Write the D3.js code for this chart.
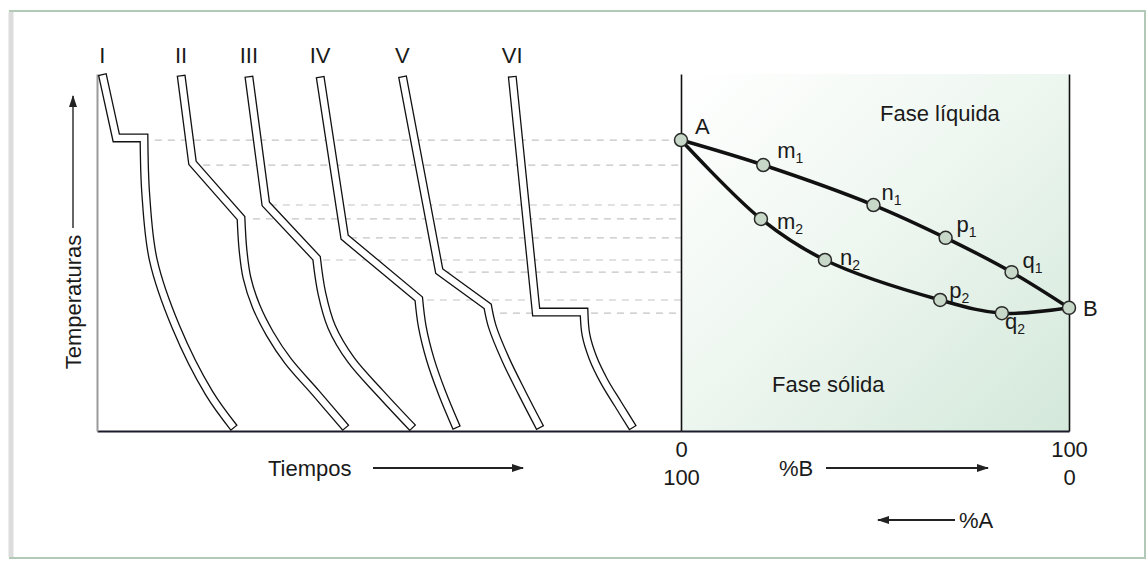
<!DOCTYPE html>
<html lang="es">
<head>
<meta charset="UTF-8">
<title>Curvas de enfriamiento y diagrama de fases</title>
<script src="https://d3js.org/d3.v7.min.js"></script>
<style>
  body { margin: 0; background: #fff; }
  svg { display: block; font-family: "Liberation Sans", Arial, sans-serif; }
  .lbl { font-size: 22px; fill: #1a1a1a; }
</style>
</head>
<body>
<svg width="1147" height="567"></svg>
<script>
// cooling curves, [time, temperature]: straight part up to the last kink, then a smooth tail
const curveNames = ["I", "II", "III", "IV", "V", "VI"];
const curveKinks = [
  [[0.9, 100], [3.3, 82.1], [8.05, 82.1]],
  [[14.4, 99.7], [16.35, 75.1], [24.66, 59.66]],
  [[26.0, 99.4], [28.9, 63.6], [37.6, 48.4]],
  [[38.2, 99.3], [42.4, 54.3], [55.1, 37.0]],
  [[52.3, 99.4], [58.6, 44.8], [66.9, 34.9]],
  [[71.1, 99.4], [75.2, 33.3], [83.4, 33.3]]
];
const curveTails = [
  [[8.05, 82.1], [8.34, 66.6], [9.64, 47.9], [13.5, 29.2], [19.2, 10.6], [23.5, 0.8]],
  [[24.66, 59.66], [25.0, 50.7], [25.68, 42.9], [27.23, 35.0], [29.62, 27.2], [32.71, 19.6], [37.5, 10.6], [42.64, 0.8]],
  [[37.6, 48.4], [38.5, 38.6], [40.2, 29.1], [43.5, 19.9], [48.5, 10.6], [54.1, 0.8]],
  [[55.1, 37.0], [55.7, 29.2], [57.1, 19.9], [59.1, 10.6], [61.6, 0.8]],
  [[66.9, 34.9], [67.7, 29.2], [70.0, 19.9], [72.8, 10.6], [75.9, 0.8]],
  [[83.4, 33.3], [83.73, 26.9], [84.93, 20.45], [86.82, 14.0], [89.21, 7.56], [91.78, 0.8]]
];

// phase diagram: liquidus and solidus, [%B, temperature]
const liqNames = ["A", "m1", "n1", "p1", "q1", "B"];
const liqComp = [0, 21.2, 49.6, 68.2, 85.2, 100];
const liqTemp = [81.5, 74.5, 63.3, 54.1, 44.5, 34.5];
const solNames = ["A", "m2", "n2", "p2", "q2", "B"];
const solComp = [0, 20.6, 37.1, 66.8, 82.7, 100];
const solTemp = [81.5, 59.4, 47.9, 36.7, 33.0, 34.5];

// dashed guides: temperature and the time where each one starts
const guideTemp = [81.5, 74.5, 63.3, 59.4, 54.1, 47.9, 44.5, 36.7, 33.0];
const guideFrom = [9.9, 18.2, 29.6, 26.7, 43.3, 38.7, 59.2, 56.5, 69.0];

const compTicks = [0, 100];

const svg = d3.select("svg");

const x = d3.scaleLinear().domain([0, 100]).range([97, 681]);     // time
const y = d3.scaleLinear().domain([0, 100]).range([431, 74]);     // temperature
const c = d3.scaleLinear().domain([0, 100]).range([681, 1069]);   // %B
const a = d3.scaleLinear().domain([100, 0]).range([681, 1069]);   // %A

// frame
svg.append("rect")
  .attr("x", 10).attr("y", 11).attr("width", 1135).attr("height", 547)
  .attr("fill", "none").attr("stroke", "#b3c9b8").attr("stroke-width", 2);
svg.append("line")
  .attr("x1", 11).attr("x2", 11).attr("y1", 12).attr("y2", 557)
  .attr("stroke", "#dcdcdc").attr("stroke-width", 5);

// green background of the phase diagram
const defs = svg.append("defs");
const grad = defs.append("linearGradient").attr("id", "green")
  .attr("x1", 0).attr("y1", 0).attr("x2", 1).attr("y2", 1);
grad.append("stop").attr("offset", "0%").attr("stop-color", "#ffffff");
grad.append("stop").attr("offset", "45%").attr("stop-color", "#eff7f1");
grad.append("stop").attr("offset", "100%").attr("stop-color", "#d3e8da");

svg.append("rect")
  .attr("x", c(0)).attr("y", y(100))
  .attr("width", c(100) - c(0)).attr("height", y(0) - y(100))
  .attr("fill", "url(#green)");

defs.append("marker").attr("id", "arrow")
  .attr("viewBox", "0 0 12 8").attr("refX", 11).attr("refY", 4)
  .attr("markerWidth", 12).attr("markerHeight", 8)
  .attr("markerUnits", "userSpaceOnUse").attr("orient", "auto")
  .append("path").attr("d", "M0,0L12,4L0,8Z").attr("fill", "#222");

// dashed guides
svg.append("g").selectAll("line")
  .data(guideTemp)
  .join("line")
  .attr("x1", (d, i) => x(guideFrom[i]))
  .attr("x2", c(0))
  .attr("y1", d => y(d)).attr("y2", d => y(d))
  .attr("stroke", "#c4c4c4").attr("stroke-width", 1.2)
  .attr("stroke-dasharray", "7,6");

// axes
svg.append("g").attr("transform", `translate(0,${y(0)})`)
  .call(d3.axisBottom(x).tickValues([]).tickSizeOuter(0))
  .call(g => g.select(".domain").attr("stroke", "#1b1b2b").attr("stroke-width", 2));
svg.append("g").attr("transform", `translate(0,${y(0)})`)
  .call(d3.axisBottom(c).tickValues([]).tickSizeOuter(0))
  .call(g => g.select(".domain").attr("stroke", "#1b1b2b").attr("stroke-width", 2));
svg.append("g").attr("transform", `translate(${x(0)},0)`)
  .call(d3.axisLeft(y).tickValues([]).tickSizeOuter(0))
  .call(g => g.select(".domain").attr("stroke", "#9a9a9a").attr("stroke-width", 2));
[c(0), c(100)].forEach(px => {
  svg.append("g").attr("transform", `translate(${px},0)`)
    .call(d3.axisLeft(y).tickValues([]).tickSizeOuter(0))
    .call(g => g.select(".domain").attr("stroke", "#111").attr("stroke-width", 1.6));
});

// %B and %A tick labels
svg.append("g").attr("transform", `translate(0,${y(0) + 10})`)
  .call(d3.axisBottom(c).tickValues(compTicks).tickSize(0).tickPadding(0))
  .call(g => g.select(".domain").remove())
  .selectAll("text").attr("class", "lbl").attr("font-family", null).attr("font-size", null);
svg.append("g").attr("transform", `translate(0,${y(0) + 38})`)
  .call(d3.axisBottom(a).tickValues(compTicks).tickSize(0).tickPadding(0))
  .call(g => g.select(".domain").remove())
  .selectAll("text").attr("class", "lbl").attr("font-family", null).attr("font-size", null);

// cooling curves as hollow tubes
const straight = d3.line().x(d => x(d[0])).y(d => y(d[1]));
const smooth = d3.line().x(d => x(d[0])).y(d => y(d[1])).curve(d3.curveCatmullRom);
const tubePaths = curveKinks.map((k, i) => {
  const tail = smooth(curveTails[i]);
  return straight(k) + tail.slice(tail.indexOf("C"));
});
const tubes = svg.append("g");
tubes.selectAll("path.outer")
  .data(tubePaths).join("path").attr("class", "outer")
  .attr("d", d => d).attr("fill", "none")
  .attr("stroke", "#111").attr("stroke-width", 9).attr("stroke-linejoin", "miter");
tubes.selectAll("path.inner")
  .data(tubePaths).join("path").attr("class", "inner")
  .attr("d", d => d).attr("fill", "none")
  .attr("stroke", "#fff").attr("stroke-width", 6.4).attr("stroke-linejoin", "miter")
  .attr("stroke-dasharray", function () {
    const len = this.getTotalLength();
    return `0 1.3 ${len - 2.6} ${len}`;
  });

svg.append("g").selectAll("text")
  .data(curveNames).join("text")
  .attr("class", "lbl")
  .attr("x", (d, i) => x(curveKinks[i][0][0]))
  .attr("y", 63)
  .attr("text-anchor", "middle")
  .text(d => d);

// liquidus / solidus
const comp = d3.line().x(d => c(d[0])).y(d => y(d[1])).curve(d3.curveCatmullRom);
const liq = liqComp.map((v, i) => [v, liqTemp[i], liqNames[i]]);
const sol = solComp.map((v, i) => [v, solTemp[i], solNames[i]]);
[liq, sol].forEach(pts => {
  svg.append("path").attr("d", comp(pts)).attr("fill", "none")
    .attr("stroke", "#111").attr("stroke-width", 3.5);
});

const pts = liq.concat(sol.slice(1, -1));
svg.append("g").selectAll("circle")
  .data(pts).join("circle")
  .attr("cx", d => c(d[0])).attr("cy", d => y(d[1])).attr("r", 6.5)
  .attr("fill", "#c8d8c8").attr("stroke", "#2a2a2a").attr("stroke-width", 1.5);

const labelOffset = {
  A: [14, -6], m1: [14, -7], n1: [8, -5], p1: [11, -6], q1: [11, -4], B: [14, 8],
  m2: [16, 10], n2: [15, 5], p2: [9, -2], q2: [3, 16]
};
const lab = svg.append("g").selectAll("text")
  .data(pts).join("text")
  .attr("class", "lbl")
  .attr("x", d => c(d[0]) + labelOffset[d[2]][0])
  .attr("y", d => y(d[1]) + labelOffset[d[2]][1]);
lab.append("tspan").text(d => d[2][0]);
lab.filter(d => d[2].length > 1).append("tspan")
  .attr("font-size", 14).attr("dy", 5).text(d => d[2].slice(1));

svg.append("text").attr("class", "lbl").attr("x", 880).attr("y", 121).text("Fase líquida");
svg.append("text").attr("class", "lbl").attr("x", 772).attr("y", 392).text("Fase sólida");

// axis titles with arrows
svg.append("text").attr("class", "lbl")
  .attr("transform", "translate(81,302) rotate(-90)")
  .attr("text-anchor", "middle").text("Temperaturas");
svg.append("line").attr("x1", 73).attr("x2", 73).attr("y1", 228).attr("y2", 96)
  .attr("stroke", "#555").attr("stroke-width", 1.8).attr("marker-end", "url(#arrow)");

svg.append("text").attr("class", "lbl").attr("x", 268).attr("y", 476).text("Tiempos");
svg.append("line").attr("x1", 373).attr("x2", 523).attr("y1", 468).attr("y2", 468)
  .attr("stroke", "#222").attr("stroke-width", 1.8).attr("marker-end", "url(#arrow)");

svg.append("text").attr("class", "lbl").attr("x", 779).attr("y", 476).text("%B");
svg.append("line").attr("x1", 826).attr("x2", 988).attr("y1", 468).attr("y2", 468)
  .attr("stroke", "#222").attr("stroke-width", 1.8).attr("marker-end", "url(#arrow)");

svg.append("line").attr("x1", 955).attr("x2", 878).attr("y1", 520).attr("y2", 520)
  .attr("stroke", "#222").attr("stroke-width", 1.8).attr("marker-end", "url(#arrow)");
svg.append("text").attr("class", "lbl").attr("x", 959).attr("y", 528).text("%A");
</script>
</body>
</html>
